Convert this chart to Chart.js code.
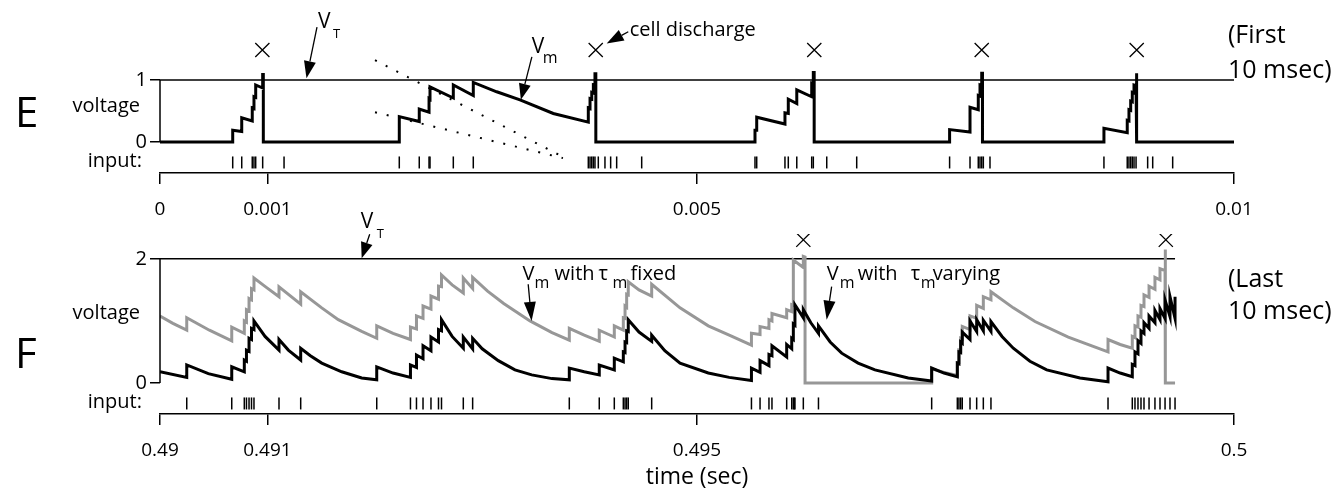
<!DOCTYPE html>
<html>
<head>
<meta charset="utf-8">
<script src="https://cdn.jsdelivr.net/npm/chart.js@4"></script>
<style>
  html, body { margin: 0; padding: 0; background: #fff; }
  #wrap { position: relative; width: 1333px; height: 491px; overflow: hidden; }
  canvas { position: absolute; left: 0; top: 0; }
</style>
</head>
<body>
<div id="wrap">
  <canvas id="first" width="1333" height="491"></canvas>
  <canvas id="last" width="1333" height="491"></canvas>
</div>
<script>
// times are in msec, voltages relative to rest (threshold 1 in E, 2 in F)

// E: first 10 msec, membrane voltage with reset after each discharge
const vmFirst = [
  [0, 0], [0.677, 0], [0.677, 0.19], [0.761, 0.17], [0.761, 0.39], [0.859, 0.34], [0.859, 0.55],
  [0.875, 0.54], [0.875, 0.73], [0.891, 0.72], [0.891, 0.92], [0.956, 0.87], [0.956, 1.09],
  [0.962, 1.09], [0.962, 0],
  [2.228, 0], [2.228, 0.41], [2.414, 0.33], [2.414, 0.53], [2.505, 0.48], [2.505, 0.70],
  [2.514, 0.69], [2.514, 0.89], [2.731, 0.71], [2.731, 0.92], [2.917, 0.75], [2.917, 0.96],
  [3.135, 0.81], [3.352, 0.68], [3.662, 0.46], [3.988, 0.32],
  [3.988, 0.55], [4.004, 0.54], [4.004, 0.70], [4.020, 0.69], [4.020, 0.80], [4.035, 0.79],
  [4.035, 0.92], [4.050, 0.91], [4.050, 1.10], [4.058, 1.10], [4.058, 0],
  [5.540, 0], [5.540, 0.19], [5.556, 0.19], [5.556, 0.40], [5.819, 0.29], [5.819, 0.47],
  [5.850, 0.46], [5.850, 0.69], [5.929, 0.62], [5.929, 0.84], [6.068, 0.73], [6.068, 0.95],
  [6.083, 0.94], [6.083, 1.12], [6.091, 1.12], [6.091, 0],
  [7.352, 0], [7.352, 0.20], [7.542, 0.16], [7.542, 0.56], [7.619, 0.52], [7.619, 0.75],
  [7.635, 0.74], [7.635, 0.92], [7.651, 0.91], [7.651, 1.11], [7.658, 1.11], [7.658, 0],
  [8.789, 0], [8.789, 0.22], [9.006, 0.15], [9.006, 0.35], [9.022, 0.34], [9.022, 0.52],
  [9.038, 0.51], [9.038, 0.66], [9.053, 0.65], [9.053, 0.80], [9.069, 0.79], [9.069, 0.92],
  [9.088, 0.91], [9.088, 1.11], [9.096, 1.11], [9.096, 0], [10, 0]
];
const inputFirst = [
  0.677, 0.761, 0.859, 0.875, 0.891, 0.956, 1.155,
  2.228, 2.414, 2.505, 2.514, 2.731, 2.917,
  3.988, 4.004, 4.020, 4.035, 4.050, 4.081, 4.143, 4.196, 4.252, 4.485,
  5.540, 5.556, 5.819, 5.850, 5.929, 6.068, 6.083, 6.208, 6.487,
  7.352, 7.542, 7.619, 7.635, 7.651, 7.666, 7.728,
  8.789, 9.006, 9.022, 9.038, 9.053, 9.069, 9.088, 9.196, 9.243, 9.429
];
const spikesFirst = [0.953, 4.057, 6.092, 7.651, 9.094];
const guideUpper = [[2.002, 1.32], [3.752, -0.24]];
const guideLower = [[2.002, 0.48], [3.752, -0.26]];

// F: last 10 msec, tau_m varying (black) and tau_m fixed (gray)
const vmVarying = [
  [490.000, 0.18], [490.249, 0.09], [490.249, 0.29], [490.450, 0.15], [490.668, 0.06], [490.668, 0.26],
  [490.785, 0.18], [490.785, 0.37], [490.805, 0.35], [490.805, 0.53], [490.829, 0.51], [490.829, 0.72],
  [490.852, 0.70], [490.852, 0.88], [490.875, 0.86], [490.875, 1.00],
  [490.978, 0.75], [491.108, 0.53], [491.108, 0.70], [491.195, 0.53], [491.310, 0.37], [491.310, 0.56],
  [491.400, 0.44], [491.506, 0.32], [491.692, 0.18], [491.878, 0.08], [492.018, 0.05], [492.018, 0.26],
  [492.170, 0.16], [492.332, 0.09], [492.332, 0.29], [492.388, 0.25], [492.388, 0.45], [492.449, 0.39],
  [492.449, 0.60], [492.523, 0.52], [492.523, 0.74], [492.593, 0.66], [492.593, 0.86], [492.621, 0.84],
  [492.621, 1.02], [492.720, 0.75], [492.824, 0.56], [492.824, 0.74], [492.911, 0.55], [492.911, 0.72],
  [493.000, 0.55], [493.150, 0.36], [493.305, 0.21], [493.461, 0.13], [493.650, 0.07], [493.811, 0.05],
  [493.811, 0.24], [493.950, 0.18], [494.090, 0.13], [494.090, 0.29], [494.230, 0.21], [494.230, 0.40],
  [494.314, 0.34], [494.314, 0.50], [494.330, 0.49], [494.330, 0.66], [494.345, 0.65], [494.345, 0.84],
  [494.360, 0.83], [494.360, 1.02], [494.460, 0.82], [494.578, 0.67], [494.578, 0.77], [494.700, 0.52],
  [494.842, 0.32], [495.105, 0.16], [495.300, 0.09], [495.507, 0.04],
  [495.507, 0.24], [495.587, 0.17], [495.587, 0.36], [495.670, 0.28], [495.670, 0.46], [495.698, 0.44],
  [495.698, 0.60], [495.835, 0.42], [495.835, 0.62], [495.882, 0.55], [495.882, 0.72], [495.897, 0.70],
  [495.897, 0.95], [495.912, 0.93], [495.912, 1.26], [495.990, 1.05], [495.990, 1.18], [496.060, 0.97],
  [496.131, 0.80], [496.131, 0.92], [496.240, 0.66], [496.347, 0.48], [496.500, 0.32], [496.657, 0.21],
  [496.967, 0.08], [497.185, 0.03], [497.185, 0.24], [497.300, 0.16], [497.424, 0.10],
  [497.424, 0.32], [497.439, 0.31], [497.439, 0.50], [497.455, 0.49], [497.455, 0.66], [497.470, 0.64],
  [497.470, 0.82], [497.542, 0.70], [497.542, 1.00], [497.604, 0.83], [497.604, 1.02], [497.666, 0.84],
  [497.666, 1.01], [497.737, 0.83], [497.737, 0.99], [497.840, 0.75], [497.945, 0.56], [498.100, 0.35],
  [498.256, 0.21], [498.566, 0.08], [498.827, 0.02], [498.827, 0.24], [498.940, 0.16], [499.053, 0.10],
  [499.053, 0.30], [499.078, 0.28], [499.078, 0.50], [499.106, 0.47], [499.106, 0.68], [499.134, 0.64],
  [499.134, 0.84], [499.162, 0.80], [499.162, 0.97], [499.209, 0.88], [499.209, 1.08], [499.264, 0.97],
  [499.264, 1.17], [499.311, 1.02], [499.311, 1.20], [499.358, 1.04], [499.358, 1.34], [499.404, 1.07],
  [499.404, 1.39], [499.451, 1.04], [499.451, 1.39]
];
const vmFixed = [
  [490.000, 1.08], [490.120, 0.96], [490.249, 0.85], [490.249, 1.05], [490.460, 0.85], [490.668, 0.68],
  [490.668, 0.90], [490.785, 0.80], [490.785, 1.00], [490.805, 0.98], [490.805, 1.18], [490.829, 1.16],
  [490.829, 1.36], [490.852, 1.34], [490.852, 1.52], [490.875, 1.50], [490.875, 1.69],
  [490.990, 1.54], [491.108, 1.39], [491.108, 1.55], [491.310, 1.27], [491.310, 1.47],
  [491.506, 1.21], [491.660, 1.02], [491.878, 0.83], [492.018, 0.72], [492.018, 0.92], [492.170, 0.80],
  [492.332, 0.70], [492.332, 0.90], [492.388, 0.87], [492.388, 1.08], [492.449, 1.04], [492.449, 1.24],
  [492.523, 1.19], [492.523, 1.40], [492.593, 1.35], [492.593, 1.56], [492.621, 1.55], [492.621, 1.74],
  [492.720, 1.58], [492.824, 1.45], [492.824, 1.69], [492.911, 1.52], [492.911, 1.70],
  [493.050, 1.48], [493.200, 1.28], [493.445, 1.00], [493.650, 0.81], [493.811, 0.69], [493.811, 0.88],
  [493.950, 0.77], [494.090, 0.67], [494.090, 0.85], [494.230, 0.74], [494.230, 0.92],
  [494.314, 0.85], [494.314, 1.05], [494.330, 1.04], [494.330, 1.24], [494.345, 1.22], [494.345, 1.43],
  [494.360, 1.42], [494.360, 1.63], [494.460, 1.50], [494.578, 1.40], [494.578, 1.59], [494.842, 1.21],
  [495.105, 0.92], [495.300, 0.77], [495.507, 0.61],
  [495.507, 0.80], [495.587, 0.78], [495.587, 0.91], [495.670, 0.88], [495.670, 1.02], [495.698, 1.00],
  [495.698, 1.12], [495.835, 1.05], [495.835, 1.18], [495.882, 1.15], [495.882, 1.26], [495.897, 1.25],
  [495.897, 1.98], [495.990, 1.86], [495.990, 2.04], [496.006, 2.03], [496.006, 0],
  [497.185, 0], [497.185, 0.23], [497.300, 0.17], [497.424, 0.12], [497.424, 0.33], [497.439, 0.33],
  [497.439, 0.53], [497.455, 0.52], [497.455, 0.72], [497.470, 0.71], [497.470, 0.91], [497.542, 0.86],
  [497.542, 1.08], [497.604, 1.04], [497.604, 1.25], [497.666, 1.20], [497.666, 1.39], [497.737, 1.34],
  [497.737, 1.47], [497.945, 1.21], [498.147, 0.99], [498.457, 0.74], [498.827, 0.50], [498.827, 0.70],
  [498.940, 0.62], [499.053, 0.56], [499.053, 0.75], [499.078, 0.73], [499.078, 0.92], [499.106, 0.90],
  [499.106, 1.08], [499.134, 1.06], [499.134, 1.25], [499.162, 1.23], [499.162, 1.42], [499.209, 1.38],
  [499.209, 1.56], [499.264, 1.51], [499.264, 1.70], [499.311, 1.66], [499.311, 1.84], [499.358, 1.81],
  [499.358, 2.15], [499.362, 2.15], [499.362, 0], [499.451, 0]
];
const inputLast = [
  490.249, 490.668, 490.785, 490.805, 490.829, 490.852, 490.875, 491.108, 491.310, 492.018,
  492.332, 492.388, 492.449, 492.523, 492.593, 492.621, 492.824, 492.911,
  493.811, 494.090, 494.230, 494.314, 494.330, 494.345, 494.360, 494.578,
  495.507, 495.587, 495.670, 495.698, 495.835, 495.882, 495.897, 495.905, 495.912, 495.990, 496.131,
  497.185, 497.424, 497.439, 497.455, 497.470, 497.542, 497.604, 497.666, 497.737,
  498.827, 499.053, 499.078, 499.106, 499.134, 499.162, 499.209, 499.264, 499.311, 499.358, 499.404, 499.451
];
const spikesLast = [495.990, 499.365];

const xTicksFirst = [0, 1, 5, 10];
const xTicksLast = [490, 491, 495, 500];
const yTicksFirst = [0, 1];
const yTicksLast = [0, 2];

const FONT = '"Open Sans", sans-serif';
const GRAY = '#979797';
const INPUT_ROW = -0.33;

const pts = pairs => pairs.map(([x, y]) => ({ x, y }));
const row = (times, y) => times.map(x => ({ x, y }));

function trace(label, pairs, color, width, order) {
  return { label, data: pts(pairs), borderColor: color, borderWidth: width, pointRadius: 0, order };
}
function ticksRow(times) {
  return { label: 'input', data: row(times, INPUT_ROW), showLine: false, pointStyle: 'line',
    pointRotation: 90, pointRadius: 6, pointBorderWidth: 1.5, pointBorderColor: '#000', order: 0 };
}
function discharges(times, y) {
  return { label: 'discharge', data: row(times, y), showLine: false, pointStyle: 'crossRot',
    pointRadius: 10, pointBorderWidth: 1.3, pointBorderColor: '#000', order: 0 };
}

function xScale(min, max, ticks, height, title) {
  return {
    type: 'linear', min, max,
    afterBuildTicks: s => { s.ticks = ticks.map(value => ({ value })); },
    afterFit: s => { s.height = height; },
    border: { display: true, color: '#000', width: 1.5 },
    grid: { drawOnChartArea: false, tickLength: 11, color: '#000', lineWidth: 1.5 },
    ticks: { color: '#000', font: { family: FONT, size: 19 }, padding: 14, maxRotation: 0,
      autoSkip: false, callback: v => String(v / 1000) },
    title: title ? { display: true, text: title, color: '#000', font: { family: FONT, size: 23 },
      padding: { top: 0, bottom: 0 } } : { display: false }
  };
}
function yScale(min, max, ticks) {
  return {
    min, max,
    afterBuildTicks: s => { s.ticks = ticks.map(value => ({ value })); },
    afterFit: s => { s.width = 160; },
    border: { display: false },
    grid: { drawOnChartArea: false, tickLength: 10, color: '#000', lineWidth: 1.5 },
    ticks: { color: '#000', font: { family: FONT, size: 20 }, padding: 3 }
  };
}

// drawing helpers for the labels and arrows
function at(chart, t, v) {
  return [chart.scales.x.getPixelForValue(t), chart.scales.y.getPixelForValue(v)];
}
function text(ctx, s, x, y, size, align) {
  ctx.font = size + 'px ' + FONT;
  ctx.textAlign = align || 'left';
  ctx.textBaseline = 'alphabetic';
  ctx.fillText(s, x, y);
}
function runs(ctx, x0, y0, list) {
  list.forEach(([s, dx, dy, size]) => text(ctx, s, x0 + dx, y0 + dy, size));
}
function arrow(ctx, x1, y1, x2, y2, len, half) {
  const a = Math.atan2(y2 - y1, x2 - x1);
  const bx = x2 - len * Math.cos(a), by = y2 - len * Math.sin(a);
  ctx.beginPath(); ctx.moveTo(x1, y1); ctx.lineTo(bx, by); ctx.stroke();
  ctx.beginPath(); ctx.moveTo(x2, y2);
  ctx.lineTo(bx + half * Math.sin(a), by - half * Math.cos(a));
  ctx.lineTo(bx - half * Math.sin(a), by + half * Math.cos(a));
  ctx.closePath(); ctx.fill();
}
function frame(chart, top, letter, voltageAt, note) {
  const { ctx, chartArea: a, scales: { y } } = chart;
  ctx.strokeStyle = ctx.fillStyle = '#000';
  ctx.lineWidth = 1.5;
  ctx.beginPath();
  ctx.moveTo(a.left, y.getPixelForValue(0));
  ctx.lineTo(a.left, y.getPixelForValue(top));
  ctx.stroke();
  text(ctx, letter, a.left - 145, y.getPixelForValue(0) - 15, 42);
  text(ctx, 'voltage', a.left - 20, y.getPixelForValue(voltageAt), 20, 'right');
  text(ctx, 'input:', a.left - 18, y.getPixelForValue(INPUT_ROW - 0.07), 20, 'right');
  text(ctx, note[0], a.right - 6, y.getPixelForValue(note[1]), 25);
  text(ctx, '10 msec)', a.right - 6, y.getPixelForValue(note[2]), 25);
}

const firstNotes = {
  id: 'firstNotes',
  afterDraw(chart) {
    const ctx = chart.ctx;
    ctx.save();
    frame(chart, 1, 'E', 0.49, ['(First', 1.6, 1.03]);
    ctx.lineWidth = 1.3;
    let [x, y] = at(chart, 1.364, 1.03);
    arrow(ctx, x + 10.5, y - 51, x, y, 17, 6);
    runs(ctx, x, y, [['V', 11.5, -50, 21], ['T', 26.5, -40, 13]]);
    [x, y] = at(chart, 3.36, 0.68);
    arrow(ctx, x + 11, y - 43, x, y, 16, 6);
    runs(ctx, x, y, [['V', 10.8, -46.5, 21], ['m', 22, -37, 16]]);
    [x, y] = at(chart, 4.159, 1.59);
    arrow(ctx, x + 21.6, y - 11.7, x, y, 17, 6);
    runs(ctx, x, y, [['cell discharge', 23, -7.5, 20]]);
    ctx.restore();
  }
};

const lastNotes = {
  id: 'lastNotes',
  afterDraw(chart) {
    const ctx = chart.ctx;
    ctx.save();
    frame(chart, 2, 'F', 1.03, ['(Last', 1.55, 1.03]);
    ctx.lineWidth = 1.3;
    let [x, y] = at(chart, 491.878, 2.01);
    arrow(ctx, x + 8, y - 24, x, y, 16, 6);
    runs(ctx, x, y, [['V', -1, -30, 21], ['T', 15, -20, 13]]);
    [x, y] = at(chart, 493.46, 1.0);
    arrow(ctx, x - 3.4, y - 36.7, x, y, 19, 6);
    runs(ctx, x, y, [['V', -9, -41, 20], ['m', 3, -33, 16], ['with', 23, -41, 20],
      ['τ', 67, -41, 20], ['m', 81, -33, 16], ['fixed', 99, -41, 20]]);
    [x, y] = at(chart, 496.207, 1.02);
    arrow(ctx, x + 5, y - 33, x, y, 19, 6);
    runs(ctx, x, y, [['V', 0, -40, 20], ['m', 13, -32, 16], ['with', 31, -40, 20],
      ['τ', 84, -40, 20], ['m', 94, -32, 16], ['varying', 106, -40, 20]]);
    ctx.restore();
  }
};

function baseOptions(padding, x, y) {
  return {
    responsive: false,
    animation: false,
    events: [],
    layout: { padding },
    plugins: { legend: { display: false }, tooltip: { enabled: false } },
    elements: { line: { tension: 0 } },
    scales: { x, y }
  };
}

new Chart(document.getElementById('first'), {
  type: 'line',
  data: {
    datasets: [
      discharges(spikesFirst, 1.484),
      ticksRow(inputFirst),
      trace('Vm', vmFirst, '#000', 3, 1),
      trace('VT', [[0, 1], [10, 1]], '#000', 1.5, 2),
      { ...trace('guide', guideUpper, '#000', 2, 3), borderDash: [2, 10] },
      { ...trace('guide', guideLower, '#000', 2, 3), borderDash: [2, 10] }
    ]
  },
  options: baseOptions({ left: 0, right: 99, top: 18, bottom: 268 },
    xScale(0, 10, xTicksFirst, 50), yScale(-0.5, 2, yTicksFirst)),
  plugins: [firstNotes]
});

new Chart(document.getElementById('last'), {
  type: 'line',
  data: {
    datasets: [
      discharges(spikesLast, 2.306),
      ticksRow(inputLast),
      trace('Vm with tau_m varying', vmVarying, '#000', 3, 1),
      trace('Vm with tau_m fixed', vmFixed, GRAY, 3, 2),
      trace('VT', [[490, 2], [499.451, 2]], '#000', 1.5, 3)
    ]
  },
  options: baseOptions({ left: 0, right: 99, top: 234, bottom: 0 },
    xScale(490, 500, xTicksLast, 77, 'time (sec)'), yScale(-0.5, 2.4, yTicksLast)),
  plugins: [lastNotes]
});
</script>
</body>
</html>
